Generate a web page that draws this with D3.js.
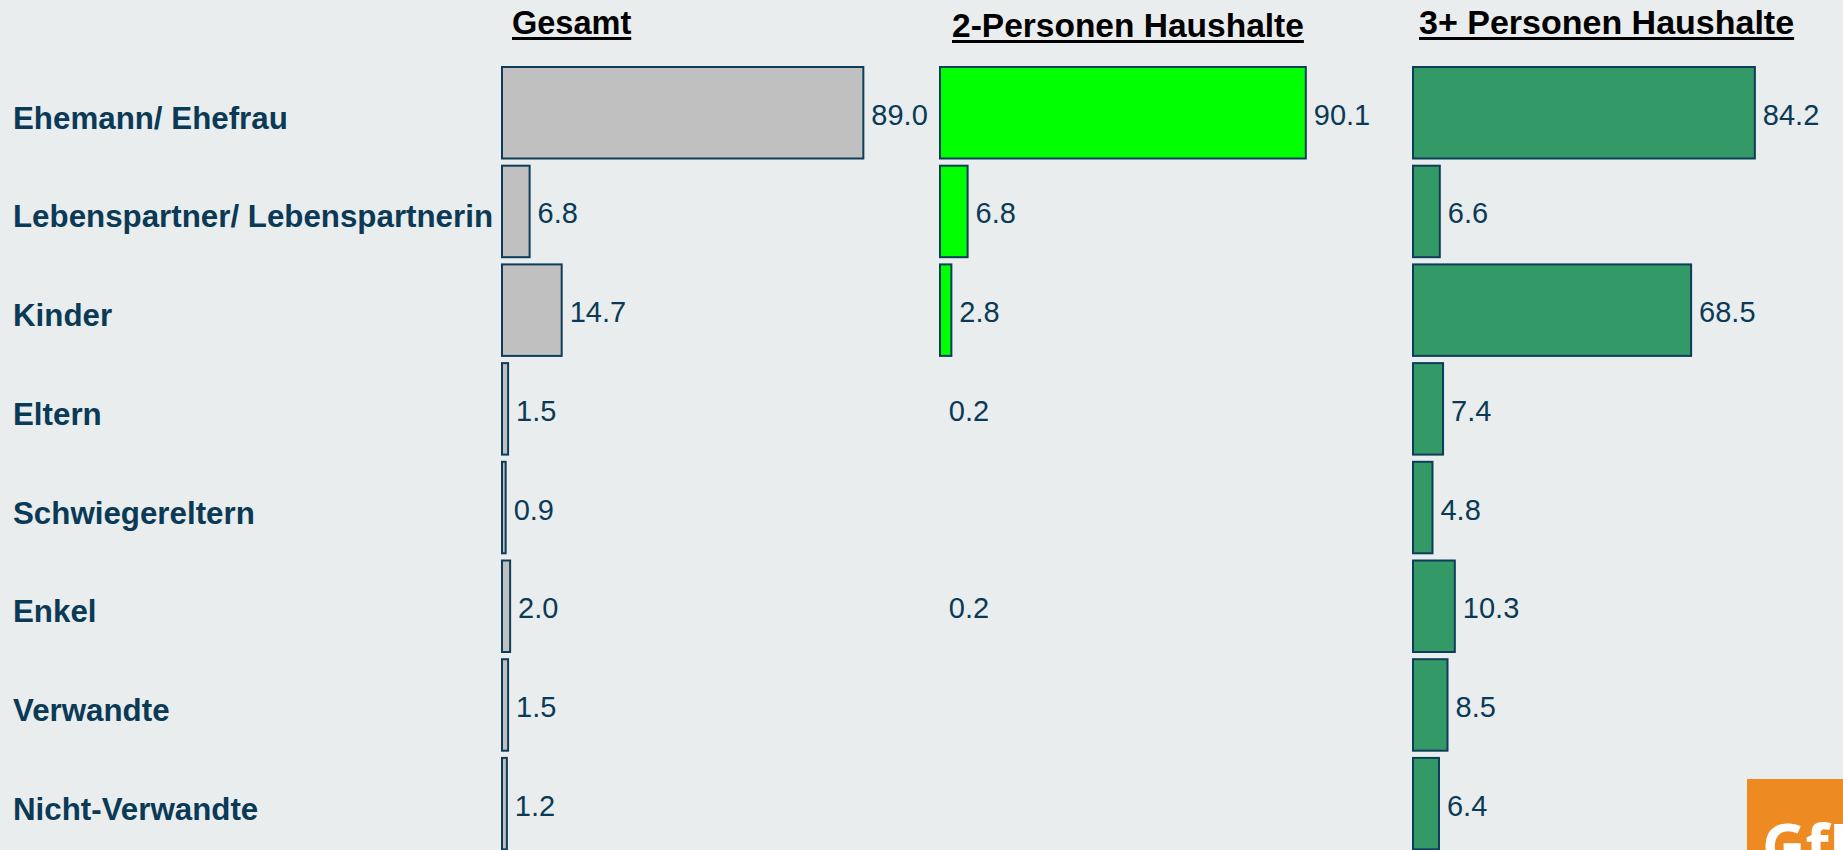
<!DOCTYPE html>
<html>
<head>
<meta charset="utf-8">
<script src="https://cdn.jsdelivr.net/npm/d3@7"></script>
<style>
  html, body { margin: 0; padding: 0; background: #e9edee; overflow: hidden; }
  svg { display: block; }
</style>
</head>
<body>
<div id="chart"></div>
<script>
// categories (rows)
const categories = [
  'Ehemann/ Ehefrau',
  'Lebenspartner/ Lebenspartnerin',
  'Kinder',
  'Eltern',
  'Schwiegereltern',
  'Enkel',
  'Verwandte',
  'Nicht-Verwandte'
]

// series values, null = no value shown
const gesamt = [89.0, 6.8, 14.7, 1.5, 0.9, 2.0, 1.5, 1.2]
const zweiPersonen = [90.1, 6.8, 2.8, 0.2, null, 0.2, null, null]
const dreiPlus = [84.2, 6.6, 68.5, 7.4, 4.8, 10.3, 8.5, 6.4]

const titles = ['Gesamt', '2-Personen Haushalte', '3+ Personen Haushalte']
const series = [gesamt, zweiPersonen, dreiPlus]
const colors = ['#c0c0c0', '#00ff00', '#339966']

const W = 1843
const H = 850
const textColor = '#0b3a56'

// layout per panel: bar origin and title offset
const panels = [
  { x0: 502, titleDx: 10, titleY: 34, titleSize: 32.5 },
  { x0: 940, titleDx: 12, titleY: 37, titleSize: 33.5 },
  { x0: 1413, titleDx: 6, titleY: 34, titleSize: 34 }
]

const svg = d3.select('#chart')
  .append('svg')
  .attr('width', W)
  .attr('height', H)

svg.append('rect')
  .attr('width', W)
  .attr('height', H)
  .attr('fill', '#e9edee')

const x = d3.scaleLinear().domain([0, 100]).range([0, 406])

const y = d3.scaleBand()
  .domain(categories)
  .range([63.4, 853])
  .paddingInner(0.073)
  .paddingOuter(0.0365)

// category labels
svg.append('g')
  .selectAll('text')
  .data(categories)
  .enter()
  .append('text')
  .attr('x', 13)
  .attr('y', d => y(d) + y.bandwidth() / 2 + 16)
  .attr('fill', textColor)
  .style('font-family', '"Liberation Sans", Arial, sans-serif')
  .style('font-weight', 'bold')
  .style('font-size', '31.3px')
  .text(d => d)

panels.forEach((p, i) => {
  const g = svg.append('g').attr('transform', `translate(${p.x0},0)`)

  const title = g.append('text')
    .attr('x', p.titleDx)
    .attr('y', p.titleY)
    .attr('fill', '#000')
    .style('font-family', '"Liberation Sans", Arial, sans-serif')
    .style('font-weight', 'bold')
    .style('font-size', p.titleSize + 'px')
    .text(titles[i])

  const tw = title.node().getComputedTextLength()
  g.append('rect')
    .attr('x', p.titleDx)
    .attr('y', p.titleY + 3)
    .attr('width', tw)
    .attr('height', 3)
    .attr('fill', '#000')

  const rows = categories
    .map((c, k) => ({ cat: c, value: series[i][k] }))
    .filter(d => d.value !== null)

  g.selectAll('.bar')
    .data(rows.filter(d => x(d.value) >= 1.5))
    .enter()
    .append('rect')
    .attr('class', 'bar')
    .attr('x', 0)
    .attr('y', d => y(d.cat))
    .attr('width', d => x(d.value))
    .attr('height', y.bandwidth())
    .attr('fill', colors[i])
    .attr('stroke', '#0d3d5a')
    .attr('stroke-width', 2)

  g.selectAll('.val')
    .data(rows)
    .enter()
    .append('text')
    .attr('class', 'val')
    .attr('x', d => x(d.value) + 8)
    .attr('y', d => y(d.cat) + y.bandwidth() / 2 + 12)
    .attr('fill', textColor)
    .style('font-family', '"Liberation Sans", Arial, sans-serif')
    .style('font-size', '29px')
    .text(d => d3.format('.1f')(d.value))
})

// logo in the corner, cut by the page edge
const logo = svg.append('g')
logo.append('rect')
  .attr('x', 1747)
  .attr('y', 779)
  .attr('width', W - 1747)
  .attr('height', H - 779)
  .attr('fill', '#ee8a22')
logo.append('text')
  .attr('x', 1762)
  .attr('y', 868)
  .attr('fill', '#fff')
  .style('font-family', '"Open Sans", sans-serif')
  .style('font-weight', 'bold')
  .style('font-size', '60px')
  .text('GfK')
</script>
</body>
</html>
